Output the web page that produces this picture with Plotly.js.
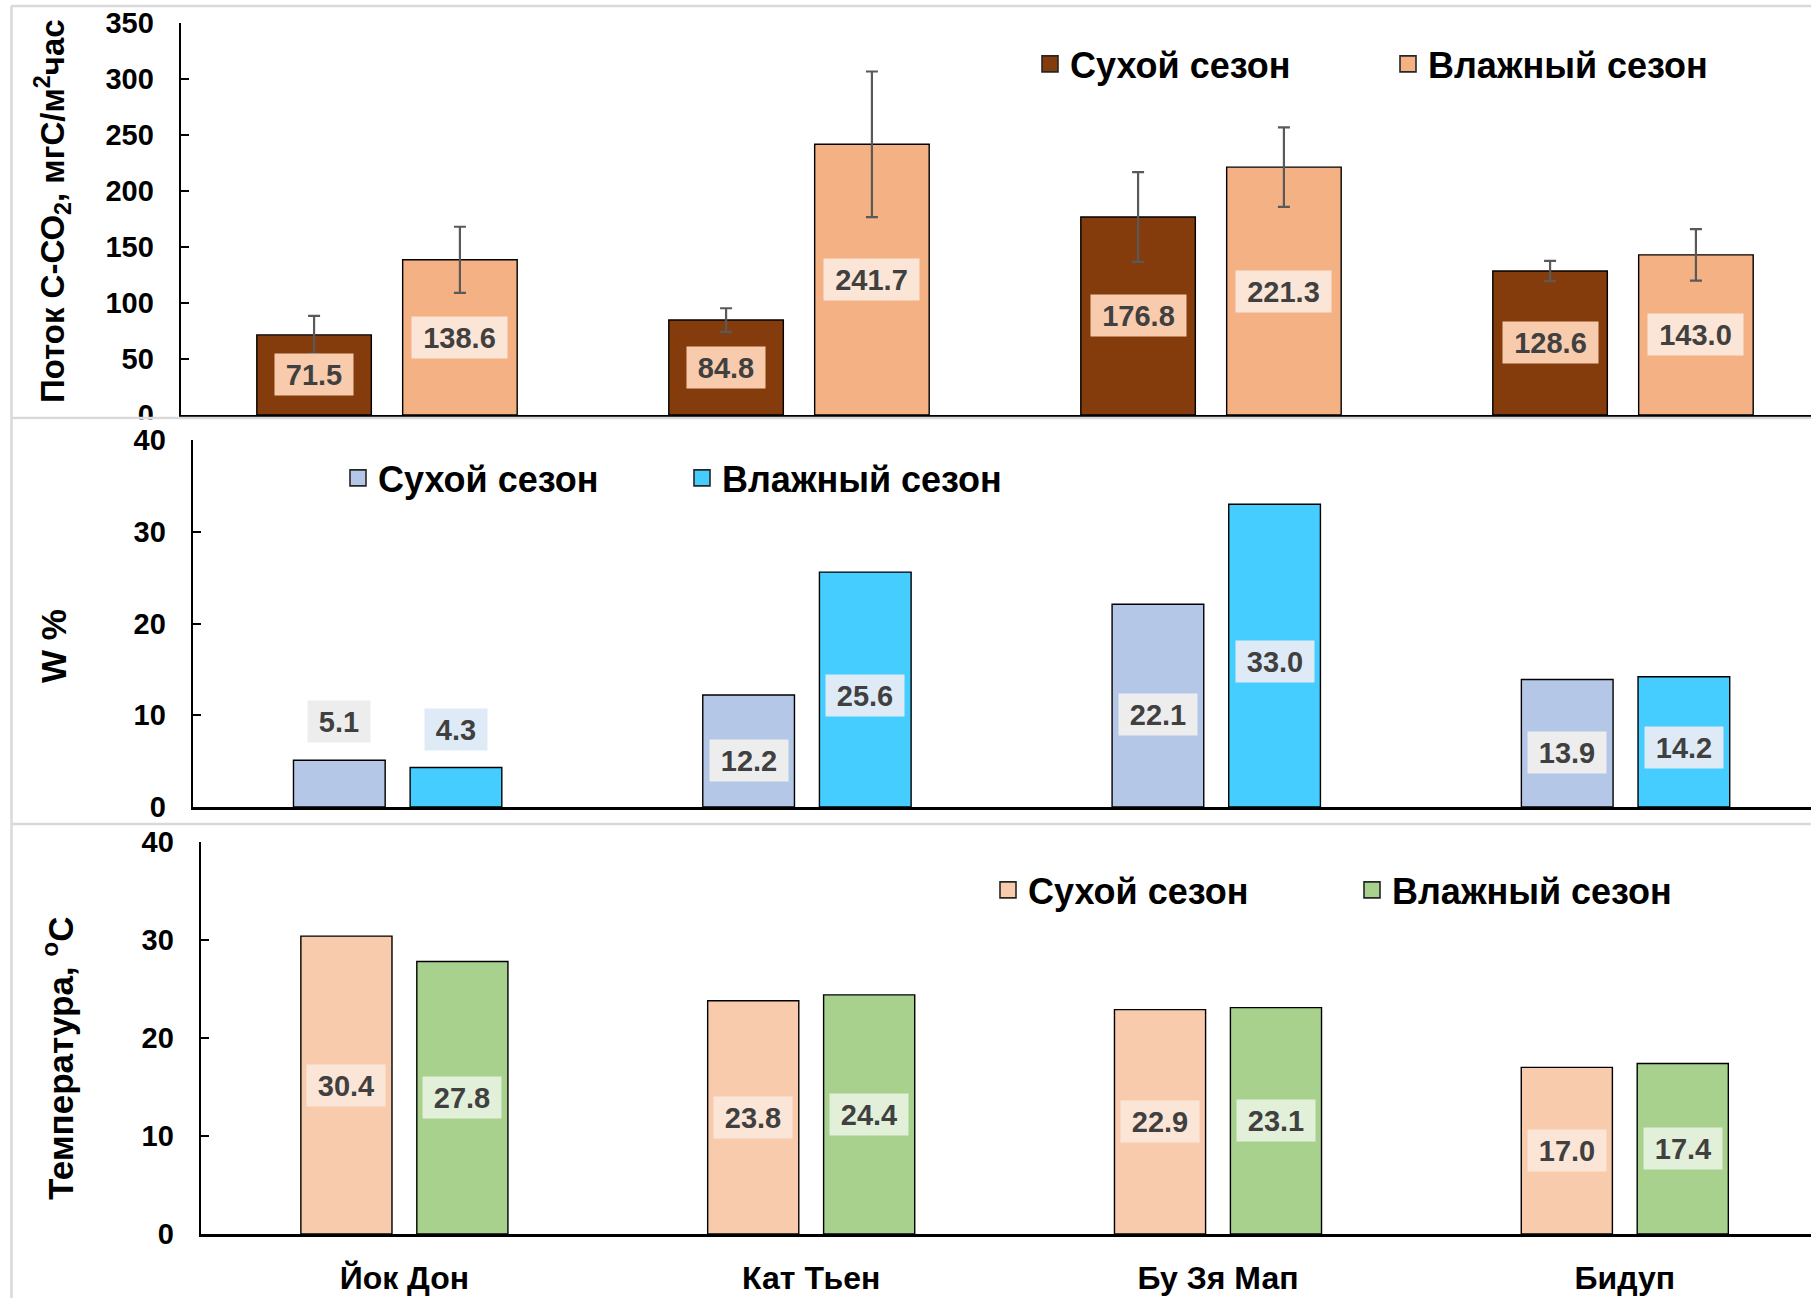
<!DOCTYPE html>
<html>
<head>
<meta charset="utf-8">
<script src="https://cdn.plot.ly/plotly-3.0.1.min.js"></script>
<style>
  html, body { margin: 0; padding: 0; background: #ffffff; }
  #chart { width: 1811px; height: 1298px; }
</style>
</head>
<body>
<div id="chart"></div>
<script>
// Sites
const sites = ['Йок Дон', 'Кат Тьен', 'Бу Зя Мап', 'Бидуп'];
const seasonNames = ['Сухой сезон', 'Влажный сезон'];

// C-CO2 flux, mgC/m2/h
const fluxDry = [71.5, 84.8, 176.8, 128.6];
const fluxWet = [138.6, 241.7, 221.3, 143.0];
const fluxDryErr = [17, 10.5, 40, 9];
const fluxWetErr = [29.5, 65, 35.5, 23];

// Soil moisture, %
const moistDry = [5.1, 12.2, 22.1, 13.9];
const moistWet = [4.3, 25.6, 33.0, 14.2];

// Soil temperature, °C
const tempDry = [30.4, 23.8, 22.9, 17.0];
const tempWet = [27.8, 24.4, 23.1, 17.4];

// Axis titles
const titleFlux = 'Поток С-СО<sub>2</sub>, мгС/м<sup>2</sup>час';
const titleMoist = 'W %';
const titleTemp = 'Температура, <sup>o</sup>С';

const W = 1811, H = 1298;
const FONT = 'Liberation Sans, Arial, sans-serif';
const LABEL_COLOR = '#404040';

// panel geometry in pixels: plot left edge, width of one category,
// y of the top tick, y of the zero line, title centre
const panels = [
  {left: 181, cat: 412.0, top: 23,  zero: 415,  max: 350, dtick: 50, titleX: 52, titleY: 211,  titleSize: 33},
  {left: 193, cat: 409.3, top: 440, zero: 807,  max: 40,  dtick: 10, titleX: 54, titleY: 646,  titleSize: 35},
  {left: 201, cat: 406.8, top: 842, zero: 1234, max: 40,  dtick: 10, titleX: 58, titleY: 1058, titleSize: 35}
];

// bar geometry in category units
const geomTop = {width: 0.278, dry: -0.177, wet: 0.177};
const geomLow = {width: 0.224, dry: -0.1425, wet: 0.1425};

function axisSuffix(axisIdx) { return axisIdx === 1 ? '' : String(axisIdx); }

function barTrace(vals, color, geom, side, axisIdx, name, err) {
  const sfx = axisSuffix(axisIdx);
  const t = {
    type: 'bar',
    x: sites,
    y: vals,
    name: name,
    xaxis: 'x' + sfx,
    yaxis: 'y' + sfx,
    showlegend: false,
    width: geom.width,
    offset: geom[side] - geom.width / 2,
    marker: {color: color, line: {color: '#000000', width: 1.4}},
    hoverinfo: 'skip'
  };
  if (err) {
    t.error_y = {type: 'data', array: err, visible: true, color: '#595959', thickness: 2.2, width: 6};
  }
  return t;
}

// legend keys: square swatches matching the bar fills
function legendKey(color, axisIdx, legendId, name) {
  const sfx = axisSuffix(axisIdx);
  return {
    type: 'scatter',
    mode: 'markers',
    x: [null],
    y: [null],
    name: name,
    xaxis: 'x' + sfx,
    yaxis: 'y' + sfx,
    legend: legendId,
    showlegend: true,
    marker: {symbol: 'square', size: 16, color: color, line: {color: '#262626', width: 1.6}},
    hoverinfo: 'skip'
  };
}

const colors = {
  fluxDry: '#843C0C', fluxWet: '#F4B183',
  moistDry: '#B4C7E7', moistWet: '#45CDFF',
  tempDry: '#F8CBAD', tempWet: '#A9D18E'
};

const data = [
  barTrace(fluxDry, colors.fluxDry, geomTop, 'dry', 1, seasonNames[0], fluxDryErr),
  barTrace(fluxWet, colors.fluxWet, geomTop, 'wet', 1, seasonNames[1], fluxWetErr),
  barTrace(moistDry, colors.moistDry, geomLow, 'dry', 2, seasonNames[0]),
  barTrace(moistWet, colors.moistWet, geomLow, 'wet', 2, seasonNames[1]),
  barTrace(tempDry, colors.tempDry, geomLow, 'dry', 3, seasonNames[0]),
  barTrace(tempWet, colors.tempWet, geomLow, 'wet', 3, seasonNames[1]),
  legendKey(colors.fluxDry, 1, 'legend', seasonNames[0]),
  legendKey(colors.fluxWet, 1, 'legend', seasonNames[1]),
  legendKey(colors.moistDry, 2, 'legend2', seasonNames[0]),
  legendKey(colors.moistWet, 2, 'legend2', seasonNames[1]),
  legendKey(colors.tempDry, 3, 'legend3', seasonNames[0]),
  legendKey(colors.tempWet, 3, 'legend3', seasonNames[1])
];

// value labels with a filled box
function labelWidth(txt, size) {
  let w = 0;
  for (const ch of txt) w += (ch === '.' ? 0.278 : 0.556);
  return Math.round(w * size + 22);
}
const annotations = [];
function addLabels(vals, geom, side, axisIdx, bg, size, opts) {
  const sfx = axisSuffix(axisIdx);
  const o = opts || {};
  vals.forEach((v, i) => {
    const txt = v.toFixed(1);
    const above = o.aboveBelow !== undefined && v < o.aboveBelow;
    annotations.push({
      xref: 'x' + sfx, yref: 'y' + sfx,
      x: i + geom[side],
      y: above ? v : v / 2,
      yanchor: above ? 'bottom' : 'middle',
      yshift: above ? 17 : (o.shift || 0),
      text: '<b>' + txt + '</b>',
      showarrow: false,
      font: {family: FONT, size: size, color: LABEL_COLOR},
      bgcolor: bg,
      width: labelWidth(txt, size),
      height: 41,
      borderpad: 0
    });
  });
}
addLabels(fluxDry, geomTop, 'dry', 1, '#F8CBAD', 29);
addLabels(fluxWet, geomTop, 'wet', 1, '#FBE5D6', 29);
addLabels(moistDry, geomLow, 'dry', 2, '#EDEDED', 29, {aboveBelow: 8, shift: -9});
addLabels(moistWet, geomLow, 'wet', 2, '#DEEBF7', 29, {aboveBelow: 8, shift: -6});
addLabels(tempDry, geomLow, 'dry', 3, '#FBE5D6', 29);
addLabels(tempWet, geomLow, 'wet', 3, '#E2F0D9', 29);

// rotated axis titles
[titleFlux, titleMoist, titleTemp].forEach((t, k) => {
  const p = panels[k];
  annotations.push({
    xref: 'paper', yref: 'paper',
    x: p.titleX / W, y: 1 - p.titleY / H,
    xanchor: 'center', yanchor: 'middle',
    textangle: -90,
    showarrow: false,
    text: '<b>' + t + '</b>',
    font: {family: FONT, size: p.titleSize, color: '#000000'}
  });
});

function yAxis(p, anchor) {
  return {
    domain: [1 - p.zero / H, 1 - p.top / H],
    range: [0, p.max],
    dtick: p.dtick,
    tick0: 0,
    anchor: anchor,
    showgrid: false,
    zeroline: false,
    showline: true,
    linecolor: '#000000',
    linewidth: 2.4,
    ticks: 'inside',
    ticklen: 8,
    tickwidth: 2,
    tickcolor: '#000000',
    ticklabelstandoff: 19,
    tickfont: {family: FONT, size: 29, color: '#000000', weight: 700},
    fixedrange: true
  };
}

function xAxis(p, anchor, showLabels) {
  return {
    domain: [p.left / W, 1],
    anchor: anchor,
    type: 'category',
    range: [-0.5, -0.5 + (W - p.left) / p.cat],
    showgrid: false,
    zeroline: false,
    showline: true,
    linecolor: '#000000',
    linewidth: 2.6,
    ticks: '',
    showticklabels: showLabels,
    ticklabelstandoff: 14,
    tickfont: {family: FONT, size: 32, color: '#000000', weight: 700},
    fixedrange: true
  };
}

function legendBox(xPx, yPx, entry) {
  return {
    orientation: 'h',
    x: xPx / W,
    y: 1 - yPx / H,
    xanchor: 'left',
    yanchor: 'middle',
    bgcolor: 'rgba(0,0,0,0)',
    borderwidth: 0,
    entrywidth: entry,
    entrywidthmode: 'pixels',
    traceorder: 'normal',
    itemsizing: 'trace',
    font: {family: FONT, size: 36, color: '#000000', weight: 700}
  };
}

// light gray frames of the three stacked panels
const frameColor = '#D9D9D9';
const shapes = [
  {type: 'line', xref: 'paper', yref: 'paper', x0: 11 / W, x1: 1, y0: 1 - 6 / H, y1: 1 - 6 / H, line: {color: frameColor, width: 2.5}},
  {type: 'line', xref: 'paper', yref: 'paper', x0: 11 / W, x1: 1, y0: 1 - 418 / H, y1: 1 - 418 / H, line: {color: frameColor, width: 2.5}},
  {type: 'line', xref: 'paper', yref: 'paper', x0: 11 / W, x1: 1, y0: 1 - 824 / H, y1: 1 - 824 / H, line: {color: frameColor, width: 2.5}},
  {type: 'line', xref: 'paper', yref: 'paper', x0: 11.5 / W, x1: 11.5 / W, y0: 0, y1: 1 - 6 / H, line: {color: frameColor, width: 2.5}},
  // the middle panel hides the lower half of the top panel's zero label
  {type: 'rect', xref: 'paper', yref: 'paper', layer: 'above', x0: 13 / W, x1: 178 / W, y0: 1 - 430 / H, y1: 1 - 419.5 / H, fillcolor: '#ffffff', line: {width: 0}}
];

const layout = {
  width: W,
  height: H,
  margin: {l: 0, r: 0, t: 0, b: 0, pad: 0},
  paper_bgcolor: '#ffffff',
  plot_bgcolor: 'rgba(0,0,0,0)',
  barmode: 'overlay',
  showlegend: true,
  xaxis: xAxis(panels[0], 'y', false),
  yaxis: yAxis(panels[0], 'x'),
  xaxis2: xAxis(panels[1], 'y2', false),
  yaxis2: yAxis(panels[1], 'x2'),
  xaxis3: xAxis(panels[2], 'y3', true),
  yaxis3: yAxis(panels[2], 'x3'),
  legend: legendBox(1030, 64, 313),
  legend2: legendBox(338, 478, 299),
  legend3: legendBox(988, 890, 319),
  annotations: annotations,
  shapes: shapes
};

Plotly.newPlot('chart', data, layout, {staticPlot: true, displayModeBar: false});
</script>
</body>
</html>
